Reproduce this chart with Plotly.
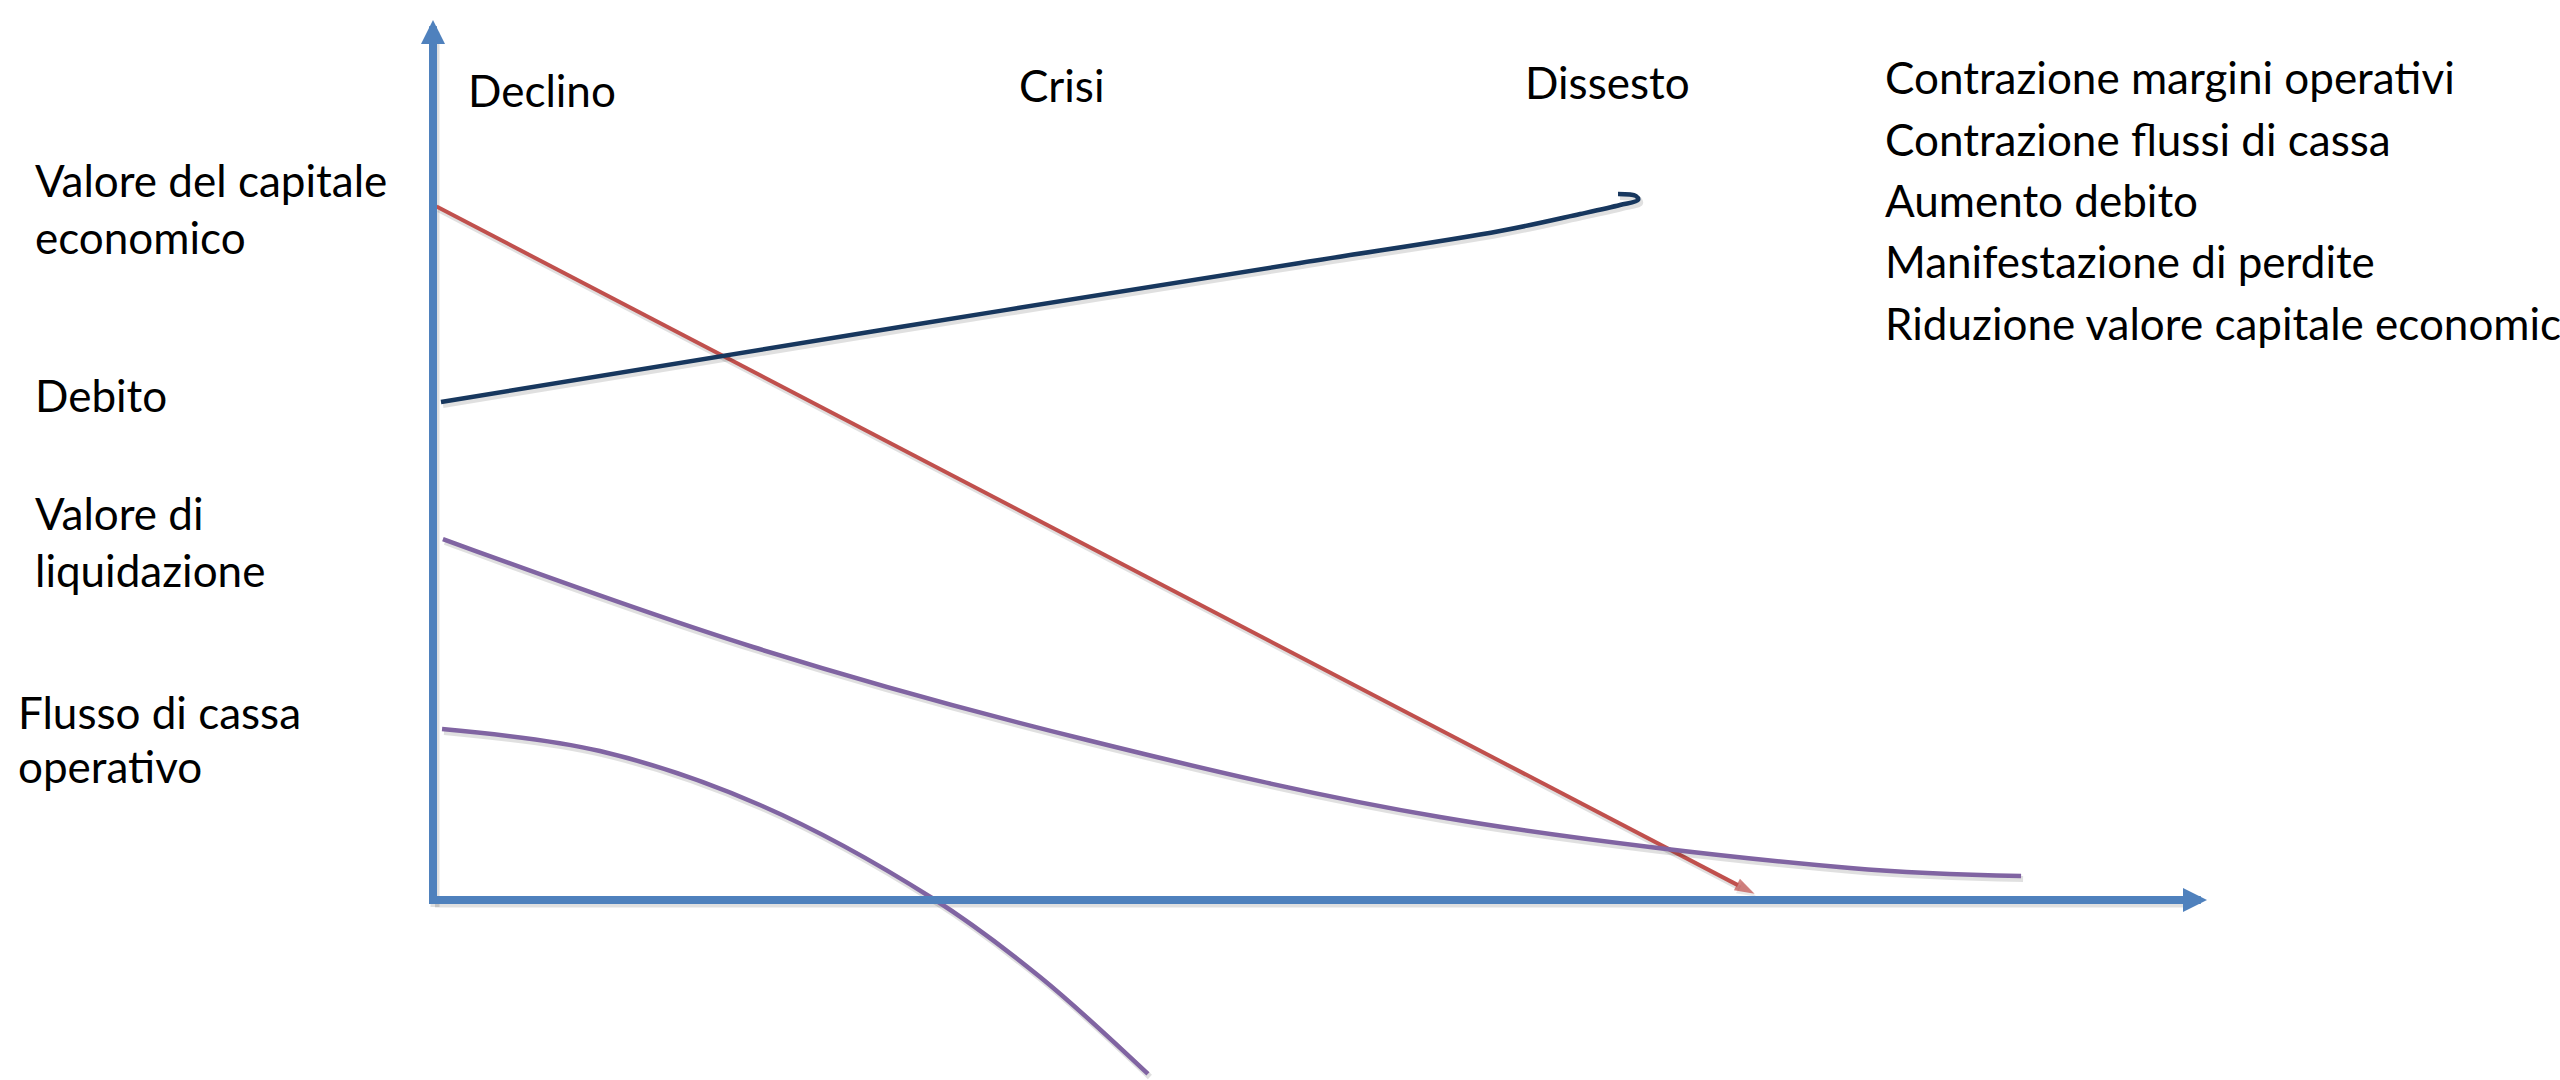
import plotly.graph_objects as go

# ---------------- data (conceptual units: both axis arrows end at 10) ----------------
phase_labels = ["Declino", "Crisi", "Dissesto"]

symptom_labels = [
    "Contrazione margini operativi",
    "Contrazione flussi di cassa",
    "Aumento debito",
    "Manifestazione di perdite",
    "Riduzione valore capitale economico",
]

series_labels = [
    ["Valore del capitale", "economico"],
    ["Debito"],
    ["Valore di", "liquidazione"],
    ["Flusso di cassa", "operativo"],
]

# Valore del capitale economico (straight decline, ends on the time axis with an arrow)
capitale_x = [0.02, 7.45]
capitale_y = [7.88, 0.07]

# Debito (slowly rising, small hook at the end)
debito_x = [0.045, 2.632, 4.887, 6.015, 6.466, 6.691, 6.793, 6.781, 6.680]
debito_y = [5.659, 6.511, 7.239, 7.602, 7.795, 7.898, 7.955, 8.000, 8.023]

# Valore di liquidazione (convex decline flattening out)
liquidazione_x = [0.056, 1.804, 3.687, 5.676, 7.988, 8.952]
liquidazione_y = [4.102, 2.875, 1.818, 0.943, 0.364, 0.273]

# Flusso di cassa operativo (concave decline, turning negative)
flusso_x = [0.051, 0.941, 1.843, 2.813, 3.422, 4.030]
flusso_y = [1.943, 1.693, 1.080, 0.023, -0.875, -1.977]

# ---------------- canvas geometry ----------------
W, H = 2560, 1080
ORIGIN_PX = (433, 900)       # where the two axes meet
X_UNIT_PX = 177.4            # pixels per x unit
Y_UNIT_PX = 88.0             # pixels per y unit
AXIS_END = 10

x_range = [-ORIGIN_PX[0] / X_UNIT_PX, (W - ORIGIN_PX[0]) / X_UNIT_PX]
y_range = [-(H - ORIGIN_PX[1]) / Y_UNIT_PX, ORIGIN_PX[1] / Y_UNIT_PX]

AXIS_COLOR = "#4F81BD"
RED = "#C0504D"
PURPLE = "#8064A2"
NAVY = "#17375E"
SHADOW = "rgba(0,0,0,0.12)"
SHADOW_DX = 2.0 / X_UNIT_PX
SHADOW_DY = -3.0 / Y_UNIT_PX

FONT = "Lato"
FONT_SIZE = 44

fig = go.Figure()


def add_curve(xs, ys, color, width, shape="spline", arrow_size=None):
    """Draw a line with a soft drop shadow; optional arrow head at the last point."""
    mode = "lines+markers" if arrow_size else "lines"
    sizes = [0] * (len(xs) - 1) + [arrow_size] if arrow_size else None
    for is_shadow in (True, False):
        px = [x + SHADOW_DX for x in xs] if is_shadow else xs
        py = [y + SHADOW_DY for y in ys] if is_shadow else ys
        col = SHADOW if is_shadow else color
        kw = {}
        if arrow_size:
            kw["marker"] = dict(symbol="arrow", size=sizes, angleref="previous",
                                color=col, line=dict(width=0))
        fig.add_trace(go.Scatter(
            x=px, y=py, mode=mode,
            line=dict(color=col, width=width + (1.5 if is_shadow else 0), shape=shape),
            hoverinfo="skip", showlegend=False, **kw))


def add_axis_arrow(x0, y0, x1, y1):
    """Thick axis with a triangular head; shadow drawn as a trace underneath."""
    # shadow of the shaft
    fig.add_trace(go.Scatter(
        x=[x0 + SHADOW_DX, x1 + SHADOW_DX - (x1 - x0) * 0.01],
        y=[y0 + SHADOW_DY, y1 + SHADOW_DY - (y1 - y0) * 0.01],
        mode="lines", line=dict(color=SHADOW, width=9),
        hoverinfo="skip", showlegend=False))
    # shaft from the corner (covers the start of the arrow)
    fig.add_trace(go.Scatter(
        x=[x0, (x0 + x1) / 2], y=[y0, (y0 + y1) / 2],
        mode="lines", line=dict(color=AXIS_COLOR, width=8),
        hoverinfo="skip", showlegend=False))
    fig.add_annotation(
        x=x1, y=y1, ax=x0, ay=y0,
        xref="x", yref="y", axref="x", ayref="y",
        text="", showarrow=True, arrowhead=2, arrowsize=0.6,
        arrowwidth=8, arrowcolor=AXIS_COLOR, standoff=0, startstandoff=0)


# axes drawn as arrows
half_w_y = 4.0 / Y_UNIT_PX
add_axis_arrow(0, 0, AXIS_END, 0)
add_axis_arrow(0, -half_w_y, 0, AXIS_END)

# the four series
add_curve(capitale_x, capitale_y, RED, 4, shape="linear", arrow_size=21)
add_curve(debito_x, debito_y, NAVY, 4.5)
add_curve(liquidazione_x, liquidazione_y, PURPLE, 4.5)
add_curve(flusso_x, flusso_y, PURPLE, 4.5)


def add_text(text, x_px, y_px):
    fig.add_annotation(
        text=text, xref="paper", yref="paper",
        x=x_px / W, y=1 - y_px / H,
        xanchor="left", yanchor="middle", showarrow=False,
        font=dict(family=FONT, size=FONT_SIZE, color="black"),
    )


# phase headings along the top
for label, (xp, yp) in zip(phase_labels, [(466, 90), (1017, 85), (1523, 82)]):
    add_text(label, xp, yp)

# list of symptoms on the right (runs past the right edge)
for i, label in enumerate(symptom_labels):
    add_text(label, 1883, 77 + i * 61.5)

# series names left of the vertical axis
series_pos = [
    [(33, 180), (33, 237)],
    [(33, 395)],
    [(33, 513), (33, 570)],
    [(16, 712), (16, 766)],
]
for lines, positions in zip(series_labels, series_pos):
    for line, (xp, yp) in zip(lines, positions):
        add_text(line, xp, yp)

fig.update_layout(
    width=W, height=H,
    margin=dict(l=0, r=0, t=0, b=0),
    paper_bgcolor="white", plot_bgcolor="white",
    xaxis=dict(range=x_range, visible=False, fixedrange=True),
    yaxis=dict(range=y_range, visible=False, fixedrange=True),
    showlegend=False,
)

fig.write_html("out.html")
